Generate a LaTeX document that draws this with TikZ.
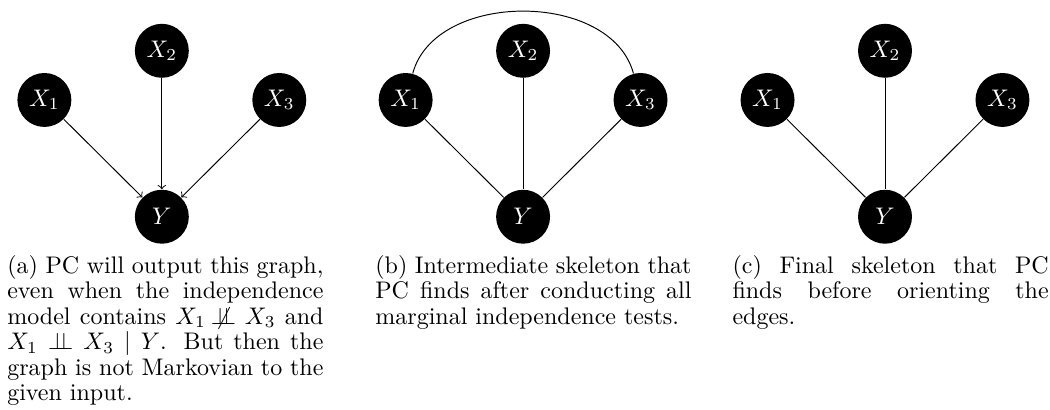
\documentclass[tikz,border=0pt]{standalone}
\usepackage{amsmath,amssymb}
\newcommand{\indep}{\perp\!\!\!\perp}
\newcommand{\nindep}{\not\!\perp\!\!\!\perp}
\begin{document}
\begin{tikzpicture}[>=to,line width=0.4pt,font=\fontsize{10}{10.6}\selectfont,
    var/.style={circle,fill=black,text=white,minimum size=0.79cm,inner sep=0pt},
    capt/.style={anchor=north west,text width=4.63cm,align=justify,inner sep=0pt}]
  \useasboundingbox (0,0) rectangle (15.376,6.004);

  % (a) graph that PC outputs
  \node[var] (a1) at (0.65,4.54) {$X_1$};
  \node[var] (a2) at (2.37,5.26) {$X_2$};
  \node[var] (a3) at (4.09,4.54) {$X_3$};
  \node[var] (ay) at (2.37,2.83) {$Y$};
  \draw[->] (a1) -- (ay);
  \draw[->] (a2) -- (ay);
  \draw[->] (a3) -- (ay);

  % (b) intermediate skeleton
  \node[var] (b1) at (5.94,4.54) {$X_1$};
  \node[var] (b2) at (7.66,5.26) {$X_2$};
  \node[var] (b3) at (9.38,4.54) {$X_3$};
  \node[var] (by) at (7.66,2.83) {$Y$};
  \draw (b1) -- (by);
  \draw (b2) -- (by);
  \draw (b3) -- (by);
  \draw (b1) to[out=75,in=105] (b3);

  % (c) final skeleton
  \node[var] (c1) at (11.24,4.54) {$X_1$};
  \node[var] (c2) at (12.96,5.26) {$X_2$};
  \node[var] (c3) at (14.68,4.54) {$X_3$};
  \node[var] (cy) at (12.96,2.83) {$Y$};
  \draw (c1) -- (cy);
  \draw (c2) -- (cy);
  \draw (c3) -- (cy);

  % subcaptions
  \node[capt] (capa) at (0.10,2.27) {(a) PC will output this graph, even when the independence model contains $X_1 \nindep X_3$ and $X_1 \indep X_3 \mid Y$. But then the graph is not Markovian to the given input.};
  \node[capt] (capb) at (5.49,2.27) {(b) Intermediate skeleton that PC finds after conducting all marginal independence tests.};
  \node[capt] (capc) at (10.72,2.27) {(c) Final skeleton that PC finds before orienting the edges.};
\end{tikzpicture}
\end{document}
